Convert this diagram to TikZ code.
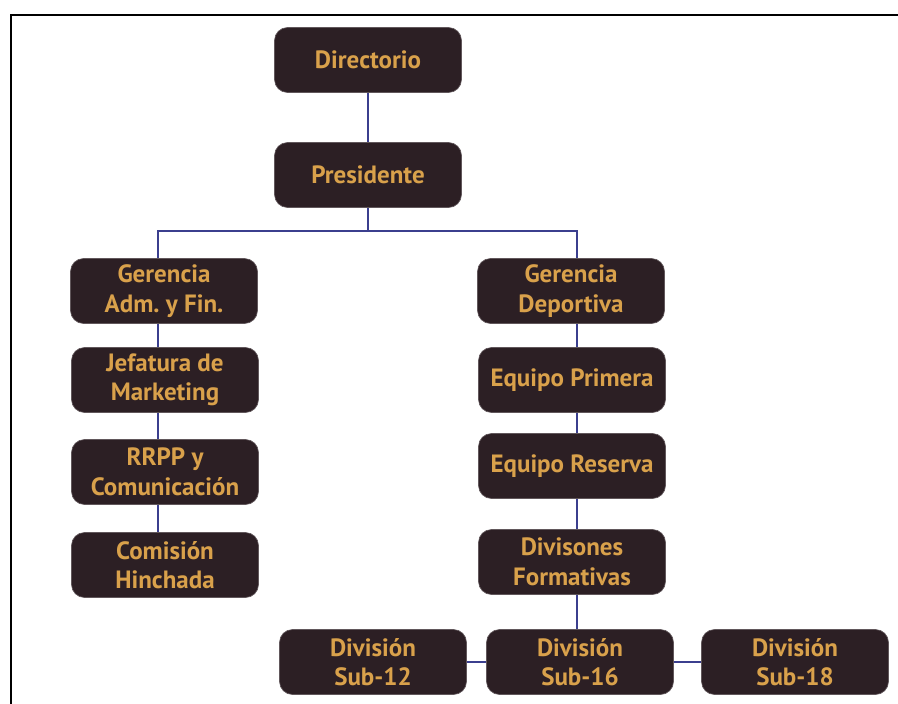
\documentclass[tikz,border=0pt]{standalone}
\usepackage{fontspec}
\setsansfont{PT Sans}
\usetikzlibrary{positioning}
\definecolor{cajacafe}{HTML}{2C1F24}
\definecolor{letraoro}{HTML}{D9A14B}
\definecolor{lineazul}{HTML}{3B3F8E}
\frenchspacing

\begin{document}
\begin{tikzpicture}[x=1pt,y=-1pt,
	cargo/.style={rectangle,rounded corners=13pt,fill=cajacafe,draw=cajacafe!75!white,line width=0.6pt,
		minimum width=187pt,minimum height=65pt,inner sep=0pt,align=center,text=letraoro,
		font=\sffamily\bfseries\fontsize{25}{29.5}\selectfont},
	enlace/.style={draw=lineazul,line width=1.6pt}]
%
	\useasboundingbox (0,0) rectangle (898,704);
	\draw[line width=2pt] (11,704) -- (11,15) -- (898,15);
%
	\node[cargo] (dir) at (368,60) {Directorio};
	\node[cargo] (pres) at (368,175) {Presidente};
	\node[cargo] (gaf) at (164,291) {Gerencia\\Adm. y Fin.};
	\node[cargo] (jm) at (165,380) {Jefatura de\\Marketing};
	\node[cargo] (rrpp) at (165,472) {RRPP y\\Comunicación};
	\node[cargo] (com) at (165,565) {Comisión\\Hinchada};
	\node[cargo] (gd) at (571,291) {Gerencia\\Deportiva};
	\node[cargo] (ep) at (572,380) {Equipo Primera};
	\node[cargo] (er) at (572,466) {Equipo Reserva};
	\node[cargo] (df) at (572,562) {Divisones\\Formativas};
	\node[cargo] (d12) at (373,662) {División\\Sub-12};
	\node[cargo] (d16) at (580,662) {División\\Sub-16};
	\node[cargo] (d18) at (795,662) {División\\Sub-18};
%
	\coordinate (izq) at (158,231);
	\coordinate (der) at (577,231);
	\draw[enlace] (dir.south) -- (pres.north);
	\draw[enlace] (pres.south) -- (pres.south |- izq);
	\draw[enlace] (gaf.north -| izq) -- (izq) -- (der) -- (gd.north -| der);
	\draw[enlace] (gaf.south -| izq) -- (jm.north -| izq);
	\draw[enlace] (jm.south -| izq) -- (rrpp.north -| izq);
	\draw[enlace] (rrpp.south -| izq) -- (com.north -| izq);
	\draw[enlace] (gd.south -| der) -- (ep.north -| der);
	\draw[enlace] (ep.south -| der) -- (er.north -| der);
	\draw[enlace] (er.south -| der) -- (df.north -| der);
	\draw[enlace] (df.south -| der) -- (d16.north -| der);
	\draw[enlace] (d12.east) -- (d16.west);
	\draw[enlace] (d16.east) -- (d18.west);
\end{tikzpicture}
\end{document}
